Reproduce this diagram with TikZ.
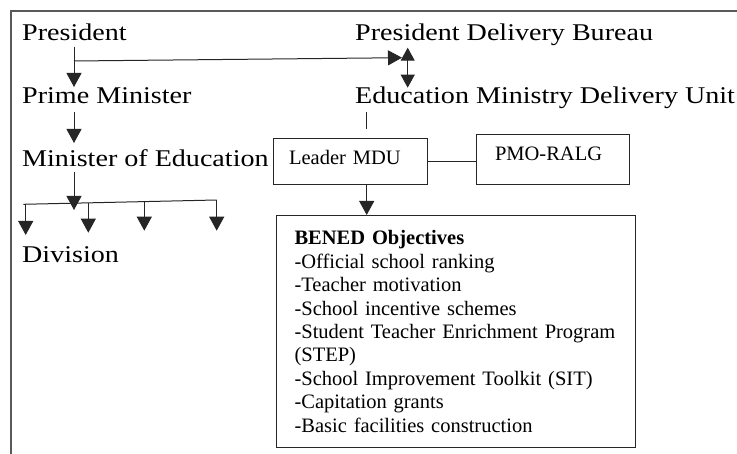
\documentclass[tikz,border=0pt]{standalone}
\usepackage{fontspec}
\setmainfont{Liberation Serif}
\newfontfamily\bigf[FakeStretch=1.17]{Liberation Serif}
\usetikzlibrary{arrows.meta,calc}
\begin{document}
\begin{tikzpicture}[x=1pt,y=-1pt,
  big/.style={anchor=base west,inner sep=0pt,font=\bigf\fontsize{24}{28}\selectfont},
  small/.style={font=\fontsize{20.5}{23.4}\selectfont},
  box/.style={draw=black!85,line width=1.1pt},
  conn/.style={line width=1pt,draw=black!85},
  arr/.style={conn,-{Triangle[width=15pt,length=14pt]}},
  dbl/.style={conn,{Triangle[width=14pt,length=13pt]}-{Triangle[width=14pt,length=13pt]}},
  frameline/.style={draw=black!65,line width=1.8pt}]
\useasboundingbox (0,0) rectangle (737,454);
\draw[frameline] (11,454) -- (11,11) -- (737,11);

% left column
\node[big] (pres) at (22,40.7) {President};
\node[big] (pm) at (22,104) {Prime Minister};
\node[big] (moe) at (22,167) {Minister of Education};
\node[big] (div) at (22,263) {Division};

% right column
\node[big] (pdb) at (355,40.7) {President Delivery Bureau};
\node[big] (emdu) at (355,104) {Education Ministry Delivery Unit};

\node[box,small,minimum width=154.7pt,minimum height=46pt,inner ysep=0pt,
      inner xsep=16pt,text width=122.7pt,align=left,
      text height=14pt,text depth=6.6pt] (lmdu) at (350.4,161.3) {Leader MDU};
\node[box,small,minimum width=152.3pt,minimum height=50pt,inner ysep=0pt,
      inner xsep=18.3pt,text width=115.7pt,align=left,
      text height=14pt,text depth=11.2pt] (pmo) at (552.9,159.3) {PMO-RALG};

\node[box,small,anchor=north west,minimum width=359pt,minimum height=231.7pt,
      align=left,text width=323pt,inner xsep=18pt,inner ysep=0pt] (bened) at (276,215)
{\textbf{BENED Objectives}\\
-Official school ranking\\
-Teacher motivation\\
-School incentive schemes\\
-Student Teacher Enrichment Program\\
(STEP)\\
-School Improvement Toolkit (SIT)\\
-Capitation grants\\
-Basic facilities construction};

% coordinates
\coordinate (a1) at (74,46.7);
\coordinate (a2) at (74,87);
\coordinate (h1) at (74,61);
\coordinate (h2) at (402,57.7);
\coordinate (v1) at (407.7,47.7);
\coordinate (v2) at (407.7,87.7);
\coordinate (b1) at (74,112);
\coordinate (b2) at (74,143);
\coordinate (c1) at (74,172);
\coordinate (c2) at (74,210);
\coordinate (bl) at (23.3,204.3);
\coordinate (br) at (216.7,200);
\coordinate (d1) at (25.7,204.25);
\coordinate (d2) at (88.3,202.9);
\coordinate (d3) at (144.3,201.6);
\coordinate (e1) at (25.7,235);
\coordinate (e2) at (88.3,232.7);
\coordinate (e3) at (144.3,230.7);
\coordinate (e4) at (216.7,230.7);
\coordinate (u1) at (366,112);
\coordinate (u2) at (366,129.3);
\coordinate (m1) at (366.7,184.3);

% connectors
\draw[arr] (a1) -- (a2);
\draw[arr] (h1) -- (h2);
\draw[dbl] (v1) -- (v2);
\draw[arr] (b1) -- (b2);
\draw[arr] (c1) -- (c2);
\draw[conn] (bl) -- (br);
\draw[arr] (d1) -- (e1);
\draw[arr] (d2) -- (e2);
\draw[arr] (d3) -- (e3);
\draw[arr] (br) -- (e4);
\draw[conn] (u1) -- (u2);
\draw[conn] (lmdu.east) -- (lmdu.east -| pmo.west);
\draw[arr] (m1) -- (m1 |- bened.north);
\end{tikzpicture}
\end{document}
